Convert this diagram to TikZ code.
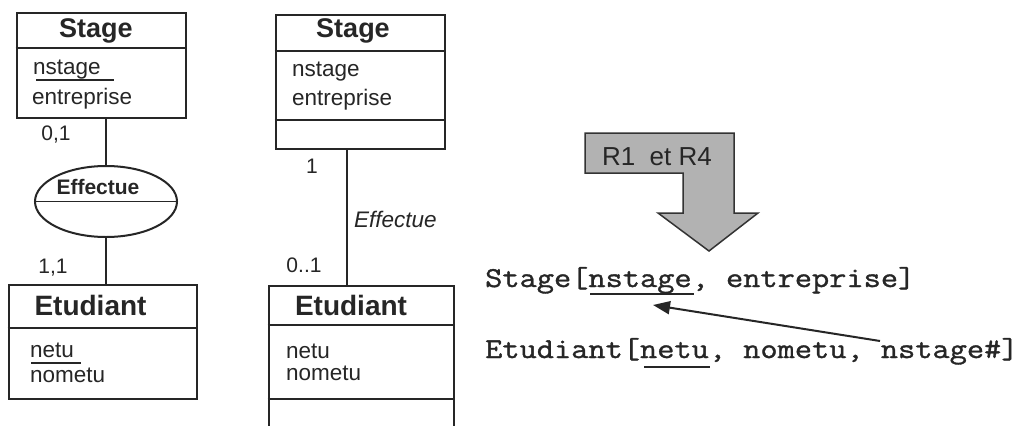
\documentclass[tikz,border=0pt]{standalone}
\usepackage{fontspec}
\setmainfont{Liberation Sans}
\newfontfamily\codefont[FakeStretch=1.16,FakeBold=1.2]{Latin Modern Mono}
\usetikzlibrary{shapes.geometric,arrows.meta}

\begin{document}
\begin{tikzpicture}[x=1pt,y=-1pt,
  entity/.style={draw=black!85, line width=2.6pt, inner sep=0pt},
  sepline/.style={draw=black!85, line width=1.4pt},
  link/.style={draw=black!85, line width=2pt},
  title/.style={font=\fontsize{27}{30}\selectfont\bfseries, anchor=base, inner sep=0pt, text=black!85},
  attr/.style={font=\fontsize{22.5}{25}\selectfont, anchor=base west, inner sep=0pt, text=black!85},
  card/.style={font=\fontsize{21}{24}\selectfont, anchor=base, inner sep=0pt, text=black!85},
  code/.style={font=\fontsize{28.8}{32}\selectfont\codefont, anchor=base west, inner sep=0pt, text=black!85},
  keyline/.style={draw=black!85, line width=1.4pt}
]
\useasboundingbox (0,0) rectangle (1021,426);
\fill[white] (0,0) rectangle (1021,426);

% ---------- Entity/association model ----------
\node[entity, minimum width=169pt, minimum height=105pt] (stageA) at (101.5,65.5) {};
\draw[sepline] (stageA.west |- 0,48) -- (stageA.east |- 0,48);
\node[title] (stageAt) at (96,37) {Stage};
\node[attr] (nsA) at (33,74) {nstage};
\draw[keyline] ([shift={(3,6)}]nsA.base west) -- ([shift={(81,6)}]nsA.base west);
\node[attr] (entA) at (32,104) {entreprise};

\node[ellipse, draw=black!85, line width=2pt, minimum width=142pt, minimum height=71pt, inner sep=0pt] (rel) at (106,201.5) {};
\draw[sepline] (rel.west) -- (rel.east);
\node[font=\fontsize{21}{24}\selectfont\bfseries, anchor=base, inner sep=0pt, text=black!85] (relt) at (98,194) {Effectue};

\node[entity, minimum width=188pt, minimum height=114pt] (etuA) at (103,342) {};
\draw[sepline] (etuA.west |- 0,328) -- (etuA.east |- 0,328);
\node[title, font=\fontsize{28}{30}\selectfont\bfseries] (etuAt) at (90.5,315) {Etudiant};
\node[attr] (neA) at (30,357) {netu};
\draw[keyline] ([shift={(1,6)}]neA.base west) -- ([shift={(51,6)}]neA.base west);
\node[attr] (noA) at (30,382) {nometu};

\draw[link] (rel.north |- stageA.south) -- (rel.north);
\draw[link] (rel.south) -- (rel.south |- etuA.north);
\node[card] (cA1) at (56,140) {0,1};
\node[card] (cA2) at (53,273) {1,1};

% ---------- UML class model ----------
\node[entity, minimum width=169pt, minimum height=134pt] (stageB) at (360.5,82) {};
\draw[sepline] (stageB.west |- 0,51) -- (stageB.east |- 0,51);
\draw[sepline] (stageB.west |- 0,120) -- (stageB.east |- 0,120);
\node[title] (stageBt) at (353,37) {Stage};
\node[attr] (nsB) at (292,76) {nstage};
\node[attr] (entB) at (292,105) {entreprise};

\node[entity, minimum width=185pt, minimum height=160pt] (etuB) at (361.5,366) {};
\draw[sepline] (etuB.west |- 0,325) -- (etuB.east |- 0,325);
\draw[sepline] (etuB.west |- 0,399) -- (etuB.east |- 0,399);
\node[title, font=\fontsize{28}{30}\selectfont\bfseries] (etuBt) at (351,315) {Etudiant};
\node[attr] (neB) at (286,358) {netu};
\node[attr] (noB) at (286,380) {nometu};

\coordinate (assoc) at (347,0);
\draw[link] (assoc |- stageB.south) -- (assoc |- etuB.north);
\node[card] (cB1) at (312,173) {1};
\node[attr, font=\fontsize{22.5}{25}\selectfont\itshape] (assocB) at (354,227) {Effectue};
\node[card] (cB2) at (304,272) {0..1};

% ---------- Transformation arrow ----------
\filldraw[fill=black!30, draw=black!80, line width=1.5pt, line join=miter]
  (585,133) -- (734,133) -- (734,213) -- (758,213) -- (709,251)
  -- (658,213) -- (683,213) -- (683,173) -- (585,173) -- cycle;
\node[font=\fontsize{26}{28}\selectfont, anchor=base, inner sep=0pt, text=black!85] (rules) at (657,165) {R1~ et R4};

% ---------- Relational schema ----------
\node[code] (relStage) at (485,287) {Stage[nstage, entreprise]};
\draw[keyline] ([shift={(105,7)}]relStage.base west) -- ([shift={(209,7)}]relStage.base west);
% the closing bracket's right side bearing is trimmed so the line fits the page
\node[code] (relEtu) at (485,358) {Etudiant[netu, nometu, nstage\#]\kern-9pt};
\draw[keyline] ([shift={(159,9)}]relEtu.base west) -- ([shift={(225,9)}]relEtu.base west);

\coordinate (fkfrom) at (880,341);
\coordinate (fkto) at (653,305);
\draw[link, -{Triangle[length=17pt,width=13pt]}] (fkfrom) -- (fkto);
\end{tikzpicture}
\end{document}
